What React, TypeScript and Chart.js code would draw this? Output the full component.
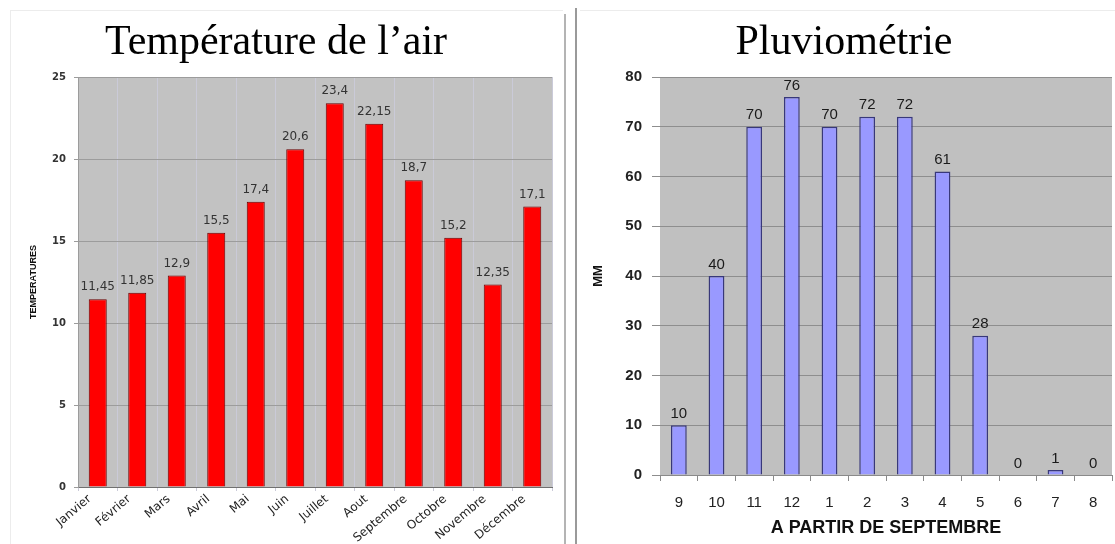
import { useEffect, useRef } from 'react';
import { Chart, registerables } from 'chart.js';

Chart.register(...registerables);

// ---- Left chart data ----
const tempTitle = 'Température de l\u2019air';
const months = ['Janvier', 'Février', 'Mars', 'Avril', 'Mai', 'Juin', 'Juillet', 'Aout', 'Septembre', 'Octobre', 'Novembre', 'Décembre'];
const temperatures = [11.45, 11.85, 12.9, 15.5, 17.4, 20.6, 23.4, 22.15, 18.7, 15.2, 12.35, 17.1];
const tempAxisTitle = 'TEMPERATURES';
const tempMin = 0;
const tempMax = 25;
const tempStep = 5;

// ---- Right chart data ----
const rainTitle = 'Pluviométrie';
const rainMonths = ['9', '10', '11', '12', '1', '2', '3', '4', '5', '6', '7', '8'];
const rainfall = [10, 40, 70, 76, 70, 72, 72, 61, 28, 0, 1, 0];
const rainYTitle = 'MM';
const rainXTitle = 'A PARTIR DE SEPTEMBRE';
const rainMin = 0;
const rainMax = 80;
const rainStep = 10;

const plotBg = {
  id: 'plotBg',
  beforeDraw(chart: any, _args: any, opts: any) {
    const { ctx, chartArea: a } = chart;
    ctx.save();
    ctx.fillStyle = opts.color;
    ctx.fillRect(a.left, a.top, a.right - a.left, a.bottom - a.top);
    ctx.restore();
  },
};

const valueLabels = {
  id: 'valueLabels',
  afterDatasetsDraw(chart: any, _args: any, opts: any) {
    const { ctx } = chart;
    const meta = chart.getDatasetMeta(0);
    const data = chart.data.datasets[0].data as number[];
    ctx.save();
    ctx.font = opts.font;
    ctx.fillStyle = opts.color;
    ctx.textAlign = 'center';
    ctx.textBaseline = 'bottom';
    meta.data.forEach((el: any, i: number) => {
      ctx.fillText(String(data[i]).replace('.', ','), el.x, el.y - opts.offset);
    });
    ctx.restore();
  },
};

function TempChart() {
  const ref = useRef<HTMLCanvasElement>(null);
  useEffect(() => {
    const chart = new Chart(ref.current!, {
      type: 'bar',
      data: {
        labels: months,
        datasets: [
          {
            data: temperatures,
            backgroundColor: '#ff0000',
            borderColor: '#6a0000',
            borderWidth: 1,
            barPercentage: 0.456,
            categoryPercentage: 1,
          },
        ],
      },
      plugins: [plotBg, valueLabels],
      options: {
        animation: false,
        responsive: false,
        layout: { padding: { left: 0, right: 13, top: 0, bottom: 0 } },
        plugins: {
          legend: { display: false },
          tooltip: { enabled: false },
          title: {
            display: true,
            text: tempTitle,
            color: '#000',
            font: { family: 'Liberation Serif', size: 42, weight: 'normal' },
            padding: { top: 18, bottom: 8.6 },
          },
          plotBg: { color: '#c2c2c2' },
          valueLabels: { font: '12px "DejaVu Sans"', color: '#333', offset: 6 },
        } as any,
        scales: {
          x: {
            grid: { display: true, color: '#cacad8', offset: true, drawTicks: true, tickLength: 4 },
            border: { color: '#707070' },
            ticks: {
              color: '#222',
              font: { family: 'DejaVu Sans', size: 12 },
              minRotation: 40,
              maxRotation: 40,
              padding: 1,
              labelOffset: -8,
            },
            afterFit: (s: any) => {
              s.height = 57;
            },
          },
          y: {
            min: tempMin,
            max: tempMax,
            ticks: {
              stepSize: tempStep,
              color: '#333',
              font: { family: 'DejaVu Sans', size: 10, weight: 'bold' },
              padding: 8,
            },
            grid: { color: '#9c9c9c', drawTicks: true, tickLength: 4 },
            border: { color: '#9c9c9c' },
            title: {
              display: true,
              text: tempAxisTitle,
              color: '#111',
              font: { family: 'Liberation Sans', size: 9, weight: 'bold' },
              padding: { top: 28, bottom: 0 },
            },
            afterFit: (s: any) => {
              s.width = 78;
            },
          },
        },
      },
    } as any);
    return () => chart.destroy();
  }, []);
  return <canvas ref={ref} width={565} height={544} style={{ position: 'absolute', left: 0, top: 0 }} />;
}

function RainChart() {
  const ref = useRef<HTMLCanvasElement>(null);
  useEffect(() => {
    const chart = new Chart(ref.current!, {
      type: 'bar',
      data: {
        labels: rainMonths,
        datasets: [
          {
            data: rainfall,
            backgroundColor: '#9999ff',
            borderColor: '#38387a',
            borderWidth: 1.5,
            barPercentage: 0.42,
            categoryPercentage: 1,
          },
        ],
      },
      plugins: [plotBg, valueLabels],
      options: {
        animation: false,
        responsive: false,
        layout: { padding: { left: 0, right: 3, top: 0, bottom: 0 } },
        plugins: {
          legend: { display: false },
          tooltip: { enabled: false },
          title: {
            display: true,
            text: rainTitle,
            color: '#000',
            font: { family: 'Liberation Serif', size: 42, weight: 'normal' },
            padding: { top: 18, bottom: 8.6 },
          },
          plotBg: { color: '#c0c0c0' },
          valueLabels: { font: '15px "Liberation Sans"', color: '#1a1a1a', offset: 4 },
        } as any,
        scales: {
          x: {
            grid: { display: true, drawOnChartArea: false, color: '#8a8a8a', offset: true, drawTicks: true, tickLength: 6 },
            border: { color: '#8a8a8a' },
            ticks: {
              color: '#222',
              font: { family: 'Liberation Sans', size: 15 },
              padding: 13,
              maxRotation: 0,
            },
            title: {
              display: true,
              text: rainXTitle,
              color: '#111',
              font: { family: 'Liberation Sans', size: 18, weight: 'bold' },
              padding: { top: 0, bottom: 5 },
            },
            afterFit: (s: any) => {
              s.height = 69;
            },
          },
          y: {
            min: rainMin,
            max: rainMax,
            ticks: {
              stepSize: rainStep,
              color: '#222',
              font: { family: 'Liberation Sans', size: 15, weight: 'bold' },
              padding: 10,
            },
            grid: { color: '#8e8e8e', drawTicks: true, tickLength: 8 },
            border: { display: false },
            title: {
              display: true,
              text: rainYTitle,
              color: '#111',
              font: { family: 'Liberation Sans', size: 13, weight: 'bold' },
              padding: { top: 15, bottom: 0 },
            },
            afterFit: (s: any) => {
              s.width = 84;
            },
          },
        },
      },
    } as any);
    return () => chart.destroy();
  }, []);
  return <canvas ref={ref} width={539} height={544} style={{ position: 'absolute', left: 576, top: 0 }} />;
}

export default function App() {
  return (
    <div style={{ position: 'fixed', left: 0, top: 0, width: 1115, height: 544, background: '#fff', overflow: 'hidden' }}>
      <div style={{ position: 'absolute', left: 10, top: 10, width: 553, height: 0, borderTop: '1px solid #ececec' }} />
      <div style={{ position: 'absolute', left: 10, top: 10, width: 0, height: 534, borderLeft: '1px solid #ececec' }} />
      <div style={{ position: 'absolute', left: 580, top: 10, width: 535, height: 0, borderTop: '1px solid #ececec' }} />
      <TempChart />
      <RainChart />
      <div style={{ position: 'absolute', left: 564, top: 14, width: 2, height: 530, background: '#b4b4b4' }} />
      <div style={{ position: 'absolute', left: 575, top: 8, width: 2, height: 536, background: '#9a9a9a' }} />
    </div>
  );
}
